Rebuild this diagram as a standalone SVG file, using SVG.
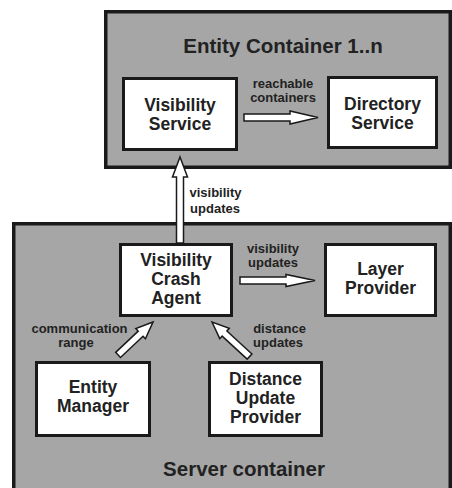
<svg xmlns="http://www.w3.org/2000/svg" width="452" height="488" viewBox="0 0 452 488">
  <style>
    .container { fill: #a6a6a6; stroke: #1a1a1a; stroke-width: 3.5; }
    .node { fill: #ffffff; stroke: #1a1a1a; stroke-width: 3; }
    .title { font-family: "Liberation Sans", Arial, sans-serif; font-weight: bold; font-size: 20.5px; fill: #222222; text-anchor: middle; }
    .ntext { font-family: "Liberation Sans", Arial, sans-serif; font-weight: bold; font-size: 17.5px; fill: #222222; text-anchor: middle; }
    .label { font-family: "Liberation Sans", Arial, sans-serif; font-weight: bold; font-size: 13px; fill: #222222; text-anchor: middle; }
    .arrow { fill: #ffffff; stroke: #1a1a1a; stroke-width: 1.5; stroke-linejoin: miter; }
  </style>

  <!-- containers -->
  <g id="entity-container">
    <rect class="container" x="105.75" y="11.75" width="344.5" height="155.5"/>
    <text class="title" x="283" y="53">Entity Container 1..n</text>
  </g>
  <g id="server-container">
    <rect class="container" x="13.75" y="223.75" width="436.5" height="300"/>
    <text class="title" x="244" y="476">Server container</text>
  </g>

  <!-- nodes -->
  <g id="visibility-service">
    <rect class="node" x="123.5" y="78.5" width="113" height="71"/>
    <text class="ntext" x="180" y="111">Visibility</text>
    <text class="ntext" x="180" y="129.5">Service</text>
  </g>
  <g id="directory-service">
    <rect class="node" x="328.5" y="77.5" width="108" height="70"/>
    <text class="ntext" x="382.5" y="109.5">Directory</text>
    <text class="ntext" x="382.5" y="128.5">Service</text>
  </g>
  <g id="visibility-crash-agent">
    <rect class="node" x="120.5" y="244.5" width="111" height="71"/>
    <text class="ntext" x="176" y="266">Visibility</text>
    <text class="ntext" x="176" y="285">Crash</text>
    <text class="ntext" x="176" y="304">Agent</text>
  </g>
  <g id="layer-provider">
    <rect class="node" x="325.5" y="244.5" width="110" height="71"/>
    <text class="ntext" x="380.5" y="275">Layer</text>
    <text class="ntext" x="380.5" y="293.5">Provider</text>
  </g>
  <g id="entity-manager">
    <rect class="node" x="36.5" y="362.5" width="113" height="73"/>
    <text class="ntext" x="93" y="393">Entity</text>
    <text class="ntext" x="93" y="412">Manager</text>
  </g>
  <g id="distance-update-provider">
    <rect class="node" x="209.5" y="362.5" width="112" height="73"/>
    <text class="ntext" x="265.5" y="385">Distance</text>
    <text class="ntext" x="265.5" y="404">Update</text>
    <text class="ntext" x="265.5" y="423">Provider</text>
  </g>

  <!-- connectors: hollow block arrows with their labels -->
  <g id="connectors">
    <polygon class="arrow" points="244,114 290,114 290,111 318,117.5 290,124 290,121 244,121"/>
    <text class="label" x="283" y="88">reachable</text>
    <text class="label" x="283" y="101.5">containers</text>

    <polygon class="arrow" points="180,157 187.5,177 183.5,177 183.5,243 176.5,243 176.5,177 172.5,177"/>
    <text class="label" x="215.5" y="197">visibility</text>
    <text class="label" x="215" y="212.5">updates</text>

    <polygon class="arrow" points="240,277 286,277 286,274.5 315,280.5 286,286.5 286,284 240,284"/>
    <text class="label" x="273" y="253">visibility</text>
    <text class="label" x="273" y="266.5">updates</text>

    <polygon class="arrow" transform="translate(153,322) rotate(-43.3)" points="0,0 -17,-7 -17,-3.5 -48,-3.5 -48,3.5 -17,3.5 -17,7"/>
    <text class="label" x="79.5" y="333">communication</text>
    <text class="label" x="76" y="346.5">range</text>

    <polygon class="arrow" transform="translate(212,322) rotate(-137.4)" points="0,0 -17,-7 -17,-3.5 -51,-3.5 -51,3.5 -17,3.5 -17,7"/>
    <text class="label" x="279.5" y="333">distance</text>
    <text class="label" x="278" y="346.5">updates</text>
  </g>
</svg>
